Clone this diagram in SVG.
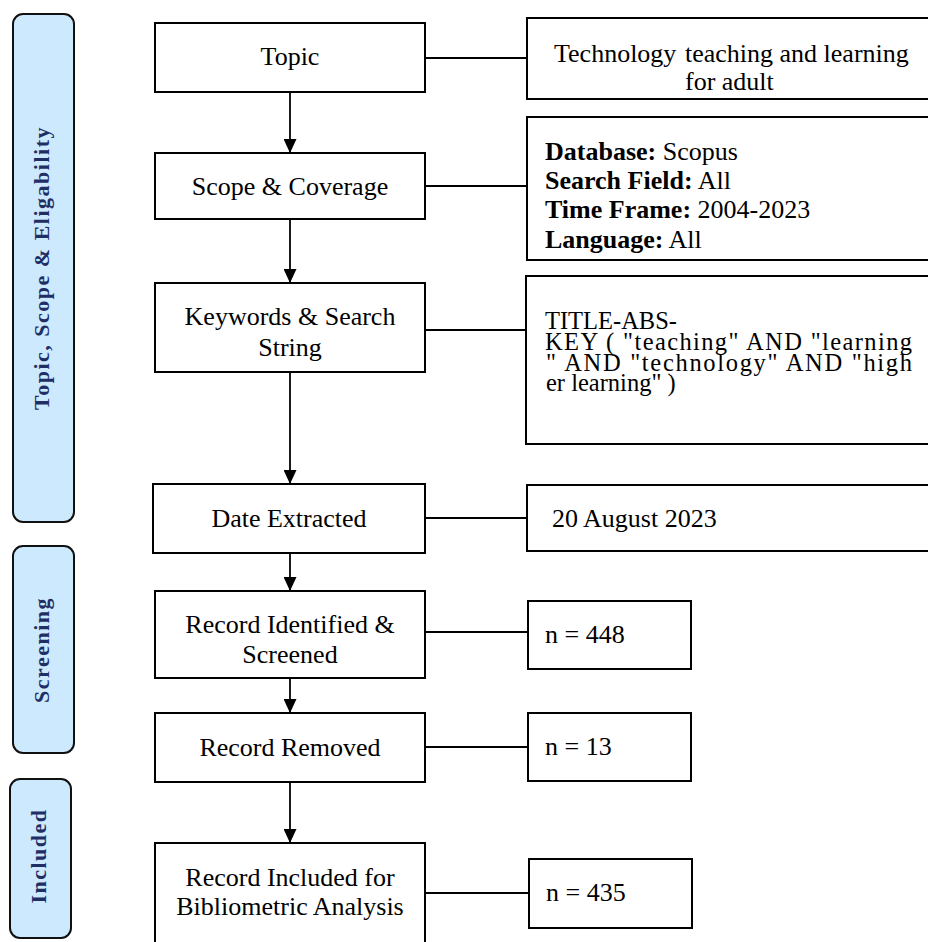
<svg xmlns="http://www.w3.org/2000/svg" width="928" height="942" viewBox="0 0 928 942">
<defs>
<style>
text{font-family:'Liberation Serif','Times New Roman',Tinos,Times,'DejaVu Serif',serif}
.box{fill:#fff;stroke:#000;stroke-width:2}
.phase{fill:#CDE9FD;stroke:#111;stroke-width:2}
.t{font-size:26px;fill:#000}
.c{text-anchor:middle}
.ph{font-size:22px;font-weight:bold;fill:#1F2F66;text-anchor:middle;letter-spacing:1.5px}
.b{font-weight:bold}
.ln{stroke:#000;stroke-width:1.8;fill:none}
.q{font-size:24.5px;fill:#000}
</style>
<marker id="ah" markerWidth="14" markerHeight="13" refX="14" refY="6.5" orient="auto" markerUnits="userSpaceOnUse">
<polygon points="0,0 14,6.5 0,13" fill="#000"/>
</marker>
</defs>

<g id="phase-topic">
<rect class="phase" x="13" y="14" width="61" height="508" rx="10"/>
<text class="ph" transform="translate(49,268) rotate(-90)">Topic, Scope &amp; Eligability</text>
</g>
<g id="phase-screening">
<rect class="phase" x="13" y="546" width="61" height="207" rx="10"/>
<text class="ph" transform="translate(49,650) rotate(-90)">Screening</text>
</g>
<g id="phase-included">
<rect class="phase" x="10" y="779" width="61" height="159" rx="10"/>
<text class="ph" transform="translate(46,856) rotate(-90)">Included</text>
</g>

<g id="connectors">
<line class="ln" x1="290" y1="92" x2="290" y2="153" marker-end="url(#ah)"/>
<line class="ln" x1="290" y1="219" x2="290" y2="283" marker-end="url(#ah)"/>
<line class="ln" x1="290" y1="372" x2="290" y2="484" marker-end="url(#ah)"/>
<line class="ln" x1="290" y1="553" x2="290" y2="591" marker-end="url(#ah)"/>
<line class="ln" x1="290" y1="678" x2="290" y2="713" marker-end="url(#ah)"/>
<line class="ln" x1="290" y1="782" x2="290" y2="843" marker-end="url(#ah)"/>
<line class="ln" x1="425" y1="58" x2="527" y2="58"/>
<line class="ln" x1="425" y1="186" x2="527" y2="186"/>
<line class="ln" x1="425" y1="330" x2="527" y2="330"/>
<line class="ln" x1="425" y1="518" x2="527" y2="518"/>
<line class="ln" x1="425" y1="632" x2="528" y2="632"/>
<line class="ln" x1="425" y1="747" x2="528" y2="747"/>
<line class="ln" x1="425" y1="893" x2="529" y2="893"/>
</g>

<g id="topic">
<rect class="box" x="155" y="23" width="270" height="69"/>
<text class="t c" x="290" y="65">Topic</text>
</g>
<g id="scope">
<rect class="box" x="155" y="153" width="270" height="66"/>
<text class="t c" x="290" y="195">Scope &amp; Coverage</text>
</g>
<g id="keywords">
<rect class="box" x="155" y="283" width="270" height="89"/>
<text class="t c" x="290" y="325">Keywords &amp; Search</text>
<text class="t c" x="290" y="356">String</text>
</g>
<g id="date">
<rect class="box" x="153" y="484" width="272" height="69"/>
<text class="t c" x="289" y="527">Date Extracted</text>
</g>
<g id="identified">
<rect class="box" x="155" y="591" width="270" height="87"/>
<text class="t c" x="290" y="633">Record Identified &amp;</text>
<text class="t c" x="290" y="663">Screened</text>
</g>
<g id="removed">
<rect class="box" x="155" y="713" width="270" height="69"/>
<text class="t c" x="290" y="756">Record Removed</text>
</g>
<g id="included">
<rect class="box" x="155" y="843" width="270" height="110"/>
<text class="t c" x="290" y="886">Record Included for</text>
<text class="t c" x="290" y="915">Bibliometric Analysis</text>
</g>

<g id="topic-detail">
<rect class="box" x="527" y="18" width="410" height="81"/>
<text class="t" y="62"><tspan x="554">Technology</tspan><tspan x="685">teaching and learning</tspan></text>
<text class="t" x="685" y="90">for adult</text>
</g>
<g id="scope-detail">
<rect class="box" x="527" y="117" width="410" height="143"/>
<text class="t" x="545" y="160"><tspan class="b">Database:</tspan> Scopus</text>
<text class="t" x="545" y="189"><tspan class="b">Search Field:</tspan> All</text>
<text class="t" x="545" y="218"><tspan class="b">Time Frame:</tspan> 2004-2023</text>
<text class="t" x="545" y="248"><tspan class="b">Language:</tspan> All</text>
</g>
<g id="search-string">
<rect class="box" x="526" y="276" width="410" height="168"/>
<text class="q" x="545" y="329">TITLE-ABS-</text>
<text class="q" x="545" y="350" textLength="367" lengthAdjust="spacing">KEY ( "teaching" AND "learning</text>
<text class="q" x="546" y="371" textLength="366" lengthAdjust="spacing">" AND "technology" AND "high</text>
<text class="q" x="546" y="391">er learning" )</text>
</g>
<g id="date-detail">
<rect class="box" x="527" y="485" width="410" height="66"/>
<text class="t" x="552" y="527">20 August 2023</text>
</g>
<g id="n448">
<rect class="box" x="528" y="601" width="163" height="68"/>
<text class="t" x="545" y="643">n = 448</text>
</g>
<g id="n13">
<rect class="box" x="528" y="713" width="163" height="68"/>
<text class="t" x="545" y="755">n = 13</text>
</g>
<g id="n435">
<rect class="box" x="529" y="859" width="163" height="69"/>
<text class="t" x="546" y="901">n = 435</text>
</g>
</svg>
